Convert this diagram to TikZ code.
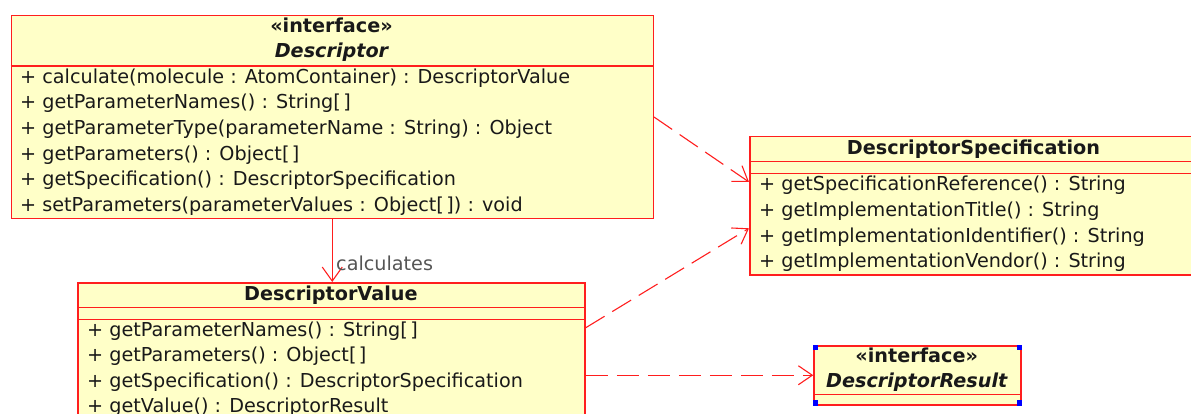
\documentclass[tikz,border=0pt]{standalone}
\usepackage{fontspec}
\setmainfont{DejaVu Sans}
\usetikzlibrary{arrows.meta,calc}
\definecolor{umlfill}{RGB}{255,255,200}
\definecolor{umlline}{RGB}{255,30,30}
\definecolor{umltext}{RGB}{25,25,25}
\definecolor{labelgray}{RGB}{85,85,85}
\definecolor{handle}{RGB}{0,0,255}
\newcommand{\umlfont}{\fontsize{19.2}{22}\selectfont}
\newcommand{\arr}{[\kern2.5pt]}
\begin{document}
\begin{tikzpicture}[x=1pt,y=-1pt,
  classbox/.style={draw=umlline, fill=umlfill, line width=1.5pt, inner sep=0pt, anchor=north west},
  divider/.style={draw=umlline, line width=1.5pt},
  member/.style={anchor=base west, inner sep=0pt, text=umltext, font=\umlfont},
  title/.style={anchor=base, inner sep=0pt, text=umltext, font=\umlfont\bfseries},
  ititle/.style={anchor=base, inner sep=0pt, text=umltext, font=\umlfont\bfseries\itshape},
  depend/.style={draw=umlline, line width=1.1pt, dash pattern=on 22pt off 9pt,
    -{Straight Barb[length=14pt,width=19pt]}},
  assoc/.style={draw=umlline, line width=1.1pt, -{Straight Barb[length=14pt,width=20pt]}},
  selhandle/.style={fill=handle, draw=none},
]
\clip (0,0) rectangle (1191,414);

% ---------- Descriptor interface ----------
\node[classbox, minimum width=642pt, minimum height=203pt] (desc) at (10.5,15) {};
\draw[divider] ($(desc.north west)+(0,51)$) -- ($(desc.north east)+(0,51)$);
\node[title]  (descst)   at (331.5,32.5) {«interface»};
\node[ititle] (descname) at (331.5,58) {Descriptor};
\node[member] (dm1) at (20,83.3)  {+ calculate(molecule : AtomContainer) : DescriptorValue};
\node[member] (dm2) at (20,108.9) {+ getParameterNames() : String\arr};
\node[member] (dm3) at (20,134.5) {+ getParameterType(parameterName : String) : Object};
\node[member] (dm4) at (20,160.1) {+ getParameters() : Object\arr};
\node[member] (dm5) at (20,185.7) {+ getSpecification() : DescriptorSpecification};
\node[member] (dm6) at (20,211.3) {+ setParameters(parameterValues : Object\arr) : void};

% ---------- DescriptorValue class ----------
\node[classbox, minimum width=507pt, minimum height=150pt] (dv) at (77.3,282) {};
\draw[divider] ($(dv.north west)+(0,25.5)$) -- ($(dv.north east)+(0,25.5)$);
\draw[divider] ($(dv.north west)+(0,37.5)$) -- ($(dv.north east)+(0,37.5)$);
\node[title] (dvname) at (330.8,300.5) {DescriptorValue};
\node[member] (vm1) at (87,336)   {+ getParameterNames() : String\arr};
\node[member] (vm2) at (87,361.6) {+ getParameters() : Object\arr};
\node[member] (vm3) at (87,387.2) {+ getSpecification() : DescriptorSpecification};
\node[member] (vm4) at (87,412.8) {+ getValue() : DescriptorResult};

% ---------- DescriptorSpecification class ----------
\node[classbox, minimum width=449pt, minimum height=138pt] (ds) at (749,136) {};
\draw[divider] ($(ds.north west)+(0,25.7)$) -- ($(ds.north east)+(0,25.7)$);
\draw[divider] ($(ds.north west)+(0,37.3)$) -- ($(ds.north east)+(0,37.3)$);
\node[title] (dsname) at (973.5,155) {DescriptorSpecification};
\node[member] (sm1) at (759,191)   {+ getSpecificationReference() : String};
\node[member] (sm2) at (759,216.6) {+ getImplementationTitle() : String};
\node[member] (sm3) at (759,242.2) {+ getImplementationIdentifier() : String};
\node[member] (sm4) at (759,267.8) {+ getImplementationVendor() : String};

% ---------- DescriptorResult interface ----------
\node[classbox, minimum width=207pt, minimum height=59pt] (dr) at (813.3,345) {};
\draw[divider] ($(dr.north west)+(0,49.3)$) -- ($(dr.north east)+(0,49.3)$);
\node[title]  (drst)   at (916.7,362)   {«interface»};
\node[ititle] (drname) at (916.7,387.5) {DescriptorResult};
% selection handles on the corners
\foreach \c/\dx/\dy in {north west/2.5/2.5, north east/-2.5/2.5, south west/2.5/-2.5, south east/-2.5/-2.5}
  \fill[selhandle] ($(dr.\c)+(\dx,\dy)+(-2.6,-2.6)$) rectangle ($(dr.\c)+(\dx,\dy)+(2.6,2.6)$);

% ---------- connectors ----------
\draw[assoc] (desc.south) -- (desc.south |- dv.north);
\node[anchor=base west, inner sep=0pt, text=labelgray, font=\umlfont] (calclabel) at (336,270.7) {calculates};

\draw[depend] ($(desc.north east)+(0,102)$) -- ($(ds.north west)+(0,46)$);
\draw[depend] ($(dv.north east)+(0,45.7)$) -- ($(ds.north west)+(0,92.3)$);
\draw[depend] (dv.east |- dr.west) -- (dr.west);
\end{tikzpicture}
\end{document}
